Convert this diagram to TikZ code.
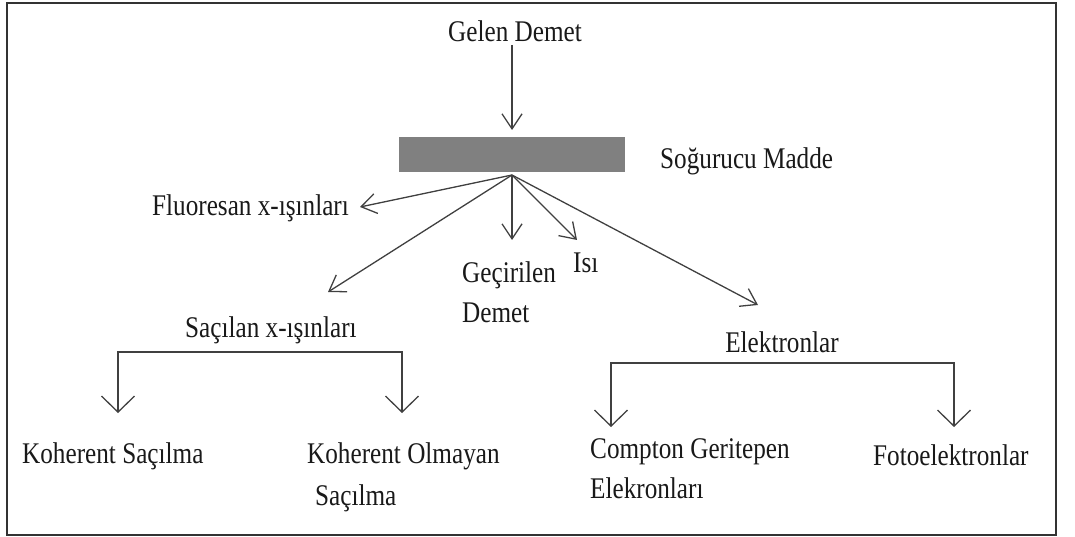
\documentclass[tikz,border=0pt]{standalone}
\usepackage{fontspec}
\setmainfont[FakeStretch=0.84]{Liberation Serif}
\usetikzlibrary{arrows.meta}
\begin{document}
\begin{tikzpicture}[x=1pt,y=-1pt,
  lbl/.style={inner sep=0pt, font=\fontsize{30}{40}\selectfont, text=black!90},
  ln/.style={draw=black!75, line width=1.3pt, line join=miter},
  arr/.style={ln, -{Straight Barb[length=15pt,width=20pt]}},
  barr/.style={ln, -{Straight Barb[length=16pt,width=33pt]}}]
\useasboundingbox (0,0) rectangle (1075,537);
\draw[draw=black!80, line width=2pt] (7,3) rectangle (1056,535);
% nodes
\node[lbl, anchor=base] (gd) at (515,42) {Gelen Demet};
\node[fill=black!50, draw=none, minimum width=226pt, minimum height=35pt, inner sep=0pt, anchor=north west] (abs) at (399,137) {};
\node[lbl, anchor=base west] (sm) at (660,169) {Soğurucu Madde};
\node[lbl, anchor=base west] (fl) at (152,215) {Fluoresan x-ışınları};
\node[lbl, anchor=base west] (sx) at (185,337) {Saçılan x-ışınları};
\node[lbl, anchor=base west] (gc1) at (462,282) {Geçirilen};
\node[lbl, anchor=base west] (gc2) at (462,322) {Demet};
\node[lbl, anchor=base west] (isi) at (573,272) {Isı};
\node[lbl, anchor=base] (el) at (782,352) {Elektronlar};
\node[lbl, anchor=base west] (ks) at (22,463) {Koherent Saçılma};
\node[lbl, anchor=base west] (ko1) at (307,463) {Koherent Olmayan};
\node[lbl, anchor=base west] (ko2) at (315,505) {Saçılma};
\node[lbl, anchor=base west] (cg1) at (590,458) {Compton Geritepen};
\node[lbl, anchor=base west] (cg2) at (590,498) {Elekronları};
\node[lbl, anchor=base west] (fe) at (873,465) {Fotoelektronlar};
% coordinates
\coordinate (o) at (512,175);
\coordinate (gs) at (512,45);
\coordinate (gt) at (512,130);
\coordinate (tf) at (360,207);
\coordinate (ts) at (328,292);
\coordinate (tg) at (512,240);
\coordinate (ti) at (577,240);
\coordinate (te) at (758,305);
\coordinate (l1) at (118,352);
\coordinate (l2) at (402,352);
\coordinate (l1t) at (118,413);
\coordinate (l2t) at (402,413);
\coordinate (r1) at (611,363);
\coordinate (r2) at (954,363);
\coordinate (r1t) at (611,427);
\coordinate (r2t) at (954,427);
% connectors
\draw[arr] (gs) -- (gt);
\draw[arr] (o) -- (tf);
\draw[arr] (o) -- (ts);
\draw[arr] (o) -- (tg);
\draw[arr] (o) -- (ti);
\draw[arr] (o) -- (te);
\draw[barr] (l2) -- (l1) -- (l1t);
\draw[barr] (l1) -- (l2) -- (l2t);
\draw[barr] (r2) -- (r1) -- (r1t);
\draw[barr] (r1) -- (r2) -- (r2t);
\end{tikzpicture}
\end{document}
